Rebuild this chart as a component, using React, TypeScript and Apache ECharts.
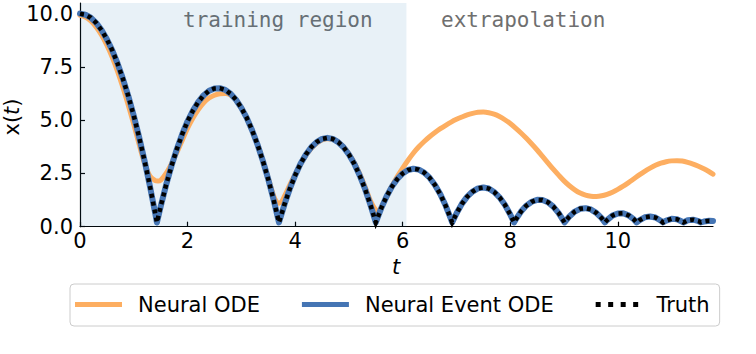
import React, { useEffect, useRef } from "react";
import * as echarts from "echarts";

// ---- data ----
const xTickValues = [0, 2, 4, 6, 8, 10];
const yTickValues = [0, 2.5, 5, 7.5, 10];
const trainingEnd = 6.07;
const legendNames = ["Neural ODE", "Neural Event ODE", "Truth"];

const truthT = [
  0, 0.1, 0.2, 0.3, 0.4, 0.5, 0.6, 0.7, 0.8, 0.9, 1.0, 1.1, 1.2, 1.3, 1.4, 1.43,
  1.5, 1.6, 1.7, 1.8, 1.9, 2.0, 2.1, 2.2, 2.3, 2.4, 2.5, 2.6, 2.7, 2.8, 2.9, 3.0, 3.1, 3.2, 3.3, 3.4, 3.5, 3.6, 3.7,
  3.8, 3.9, 4.0, 4.1, 4.2, 4.3, 4.4, 4.5, 4.6, 4.7, 4.8, 4.9, 5.0, 5.1, 5.2, 5.3, 5.4, 5.5,
  5.6, 5.7, 5.8, 5.9, 6.0, 6.1, 6.2, 6.3, 6.4, 6.5, 6.6, 6.7, 6.8, 6.9, 6.92,
  7.0, 7.1, 7.2, 7.3, 7.4, 7.5, 7.6, 7.7, 7.8, 7.9, 8.0, 8.07,
  8.1, 8.2, 8.3, 8.4, 8.5, 8.6, 8.7, 8.8, 8.9, 9.0, 9.01,
  9.1, 9.2, 9.3, 9.4, 9.5, 9.6, 9.7, 9.76,
  9.8, 9.9, 10.0, 10.1, 10.2, 10.3, 10.35,
  10.4, 10.5, 10.6, 10.7, 10.8, 10.84,
  10.9, 11.0, 11.1, 11.2, 11.22,
  11.3, 11.4, 11.5, 11.54, 11.6, 11.7, 11.77,
];
const truthX = [
  10, 9.95, 9.81, 9.57, 9.23, 8.8, 8.28, 7.65, 6.93, 6.12, 5.21, 4.2, 3.1, 1.91, 0.61, 0.2,
  0.95, 1.95, 2.84, 3.64, 4.34, 4.95, 5.45, 5.86, 6.17, 6.38, 6.49, 6.5, 6.42, 6.24, 5.96, 5.58, 5.11, 4.53, 3.86, 3.09, 2.23, 1.26, 0.2,
  1.03, 1.77, 2.41, 2.95, 3.39, 3.73, 3.97, 4.12, 4.17, 4.12, 3.97, 3.73, 3.39, 2.95, 2.41, 1.77, 1.03, 0.2,
  0.86, 1.42, 1.88, 2.24, 2.5, 2.66, 2.72, 2.68, 2.54, 2.3, 1.96, 1.52, 0.98, 0.34, 0.2,
  0.62, 1.07, 1.41, 1.65, 1.8, 1.84, 1.79, 1.63, 1.38, 1.03, 0.57, 0.2,
  0.33, 0.71, 0.99, 1.17, 1.26, 1.25, 1.15, 0.94, 0.64, 0.24, 0.2,
  0.48, 0.71, 0.84, 0.87, 0.81, 0.65, 0.4, 0.2,
  0.31, 0.52, 0.62, 0.63, 0.53, 0.34, 0.2,
  0.3, 0.44, 0.48, 0.43, 0.28, 0.2,
  0.29, 0.37, 0.35, 0.23, 0.2,
  0.3, 0.33, 0.26, 0.2, 0.24, 0.28, 0.27,
];
// Neural Event ODE overlaps the truth everywhere in the picture
const eventOdeT = truthT;
const eventOdeX = truthX;

const neuralOdeT = [
  0, 0.1, 0.2, 0.3, 0.4, 0.5, 0.6, 0.7, 0.8, 0.9, 1.0, 1.1, 1.2, 1.3, 1.4, 1.45, 1.5, 1.6, 1.7, 1.8, 1.9,
  2.0, 2.1, 2.2, 2.3, 2.4, 2.5, 2.6, 2.7, 2.8, 2.9, 3.0, 3.1, 3.2, 3.3, 3.4, 3.5, 3.6, 3.65, 3.7, 3.75, 3.8, 3.9,
  4.0, 4.1, 4.2, 4.3, 4.4, 4.5, 4.6, 4.7, 4.8, 4.9, 5.0, 5.1, 5.2, 5.3, 5.4, 5.5, 5.55, 5.6, 5.7, 5.8, 5.9,
  6.0, 6.1, 6.2, 6.3, 6.4, 6.5, 6.6, 6.7, 6.8, 6.9, 7.0, 7.1, 7.2, 7.3, 7.4, 7.5, 7.6, 7.7, 7.8, 7.9,
  8.0, 8.1, 8.2, 8.3, 8.4, 8.5, 8.6, 8.7, 8.8, 8.9, 9.0, 9.1, 9.2, 9.3, 9.4, 9.5, 9.6, 9.7, 9.8, 9.9,
  10.0, 10.1, 10.2, 10.3, 10.4, 10.5, 10.6, 10.7, 10.8, 10.9, 11.0, 11.1, 11.2, 11.3, 11.4, 11.5, 11.6, 11.7, 11.77,
];
const neuralOdeX = [
  9.92, 9.84, 9.66, 9.38, 9.0, 8.52, 7.95, 7.28, 6.52, 5.69, 4.8, 3.86, 2.98, 2.38, 2.16, 2.14, 2.18, 2.5, 2.95, 3.48, 4.05,
  4.62, 5.1, 5.5, 5.82, 6.04, 6.17, 6.24, 6.25, 6.18, 5.95, 5.58, 5.1, 4.52, 3.85, 3.1, 2.28, 1.45, 1.18, 1.1, 1.18, 1.42, 1.95,
  2.45, 2.93, 3.35, 3.68, 3.92, 4.07, 4.13, 4.1, 3.97, 3.74, 3.42, 3.0, 2.48, 1.88, 1.22, 0.78, 0.74, 0.9, 1.4, 1.9, 2.35,
  2.75, 3.12, 3.46, 3.75, 4.0, 4.22, 4.42, 4.6, 4.76, 4.91, 5.04, 5.15, 5.25, 5.32, 5.37, 5.38, 5.35, 5.28, 5.17, 5.02,
  4.84, 4.63, 4.4, 4.15, 3.88, 3.6, 3.3, 3.0, 2.7, 2.42, 2.15, 1.92, 1.73, 1.58, 1.48, 1.43, 1.42, 1.45, 1.52, 1.62,
  1.75, 1.9, 2.07, 2.25, 2.43, 2.6, 2.75, 2.88, 2.98, 3.05, 3.09, 3.1, 3.08, 3.02, 2.94, 2.84, 2.72, 2.58, 2.47,
];

const zip = (t: number[], x: number[]) => {
  const n = Math.min(t.length, x.length);
  const out: number[][] = [];
  for (let i = 0; i < n; i++) out.push([t[i], x[i]]);
  return out;
};

const FONT = "DejaVu Sans";
const ORANGE = "#fdae61";
const BLUE = "#4575b4";
const DOTS_ICON =
  "path://M0,0H5V5H0Z M12.5,0H17.5V5H12.5Z M25,0H30V5H25Z M37.5,0H42.5V5H37.5Z";

export default function App() {
  const ref = useRef<HTMLDivElement>(null);
  useEffect(() => {
    document.body.style.margin = "0";
    const chart = echarts.init(ref.current as HTMLDivElement, null, { renderer: "svg" });
    const option: any = {
      animation: false,
      backgroundColor: "#ffffff",
      grid: { left: 80, right: 43, top: 3, height: 223.7 },
      xAxis: {
        type: "value",
        min: 0,
        max: 11.77,
        axisLine: { show: true, onZero: false, lineStyle: { color: "#000", width: 1.2 } },
        axisTick: { show: true, inside: true, length: 5, customValues: xTickValues, lineStyle: { color: "#000", width: 1.2 } },
        axisLabel: {
          customValues: xTickValues,
          formatter: (v: number) => String(v),
          color: "#000",
          fontFamily: FONT,
          fontSize: 21,
          margin: 4,
        },
        splitLine: { show: false },
      },
      yAxis: {
        type: "value",
        min: 0,
        max: 10.5,
        axisLine: { show: true, onZero: false, lineStyle: { color: "#000", width: 1.2 } },
        axisTick: { show: true, inside: true, length: 5, customValues: yTickValues, lineStyle: { color: "#000", width: 1.2 } },
        axisLabel: {
          customValues: yTickValues,
          formatter: (v: number) => v.toFixed(1),
          color: "#000",
          fontFamily: FONT,
          fontSize: 21,
          margin: 7,
        },
        splitLine: { show: false },
      },
      legend: {
        data: [
          { name: legendNames[0], icon: "rect", itemStyle: { color: ORANGE } },
          { name: legendNames[1], icon: "rect", itemStyle: { color: BLUE } },
          { name: legendNames[2], icon: DOTS_ICON, itemStyle: { color: "#000" } },
        ],
        left: 70,
        top: 284,
        padding: [10, 10, 11, 5],
        itemGap: 42,
        itemWidth: 47,
        itemHeight: 5,
        backgroundColor: "#fff",
        borderColor: "#cccccc",
        borderWidth: 1,
        borderRadius: 4,
        textStyle: { color: "#000", fontFamily: FONT, fontSize: 21, padding: [0, 0, 0, 11] },
      },
      series: [
        {
          name: "_region",
          type: "line",
          data: [],
          z: 0,
          silent: true,
          markArea: {
            silent: true,
            itemStyle: { color: "rgba(31,119,180,0.1)" },
            data: [[{ xAxis: 0 }, { xAxis: trainingEnd }]],
          },
        },
        {
          name: legendNames[0],
          type: "line",
          data: zip(neuralOdeT, neuralOdeX),
          showSymbol: false,
          symbol: "none",
          smooth: 0.3,
          z: 2,
          lineStyle: { color: ORANGE, width: 5, join: "round", cap: "round" },
          itemStyle: { color: ORANGE },
        },
        {
          name: legendNames[1],
          type: "line",
          data: zip(eventOdeT, eventOdeX),
          showSymbol: false,
          symbol: "none",
          z: 3,
          lineStyle: { color: BLUE, width: 6, join: "round", cap: "round" },
          itemStyle: { color: BLUE },
        },
        {
          name: legendNames[2],
          type: "line",
          data: zip(truthT, truthX),
          showSymbol: false,
          symbol: "none",
          z: 4,
          lineStyle: { color: "#000", width: 4.5, type: [4, 4], join: "miter", cap: "butt" },
          itemStyle: { color: "#000" },
        },
      ],
      graphic: [
        {
          type: "text",
          left: 183,
          top: 9,
          style: { text: "training region", fontFamily: "DejaVu Sans Mono", fontSize: 21, fill: "#6f6f6f" },
        },
        {
          type: "text",
          left: 441,
          top: 9,
          style: { text: "extrapolation", fontFamily: "DejaVu Sans Mono", fontSize: 21, fill: "#6f6f6f" },
        },
        {
          type: "text",
          x: 12,
          y: 117,
          rotation: Math.PI / 2,
          style: {
            text: "{n|x(}{i|t}{n|)}",
            align: "center",
            verticalAlign: "middle",
            fontFamily: FONT,
            fontSize: 21,
            fill: "#000",
            rich: {
              n: { fontFamily: FONT, fontSize: 21, fill: "#000" },
              i: { fontFamily: FONT, fontSize: 21, fontStyle: "italic", fill: "#000" },
            },
          },
        },
        {
          type: "text",
          x: 396,
          y: 267,
          style: {
            text: "t",
            align: "center",
            verticalAlign: "middle",
            fontFamily: FONT,
            fontSize: 21,
            fontStyle: "italic",
            fill: "#000",
          },
        },
      ],
    };
    chart.setOption(option);
    return () => chart.dispose();
  }, []);
  return <div ref={ref} style={{ width: 756, height: 354 }} />;
}
